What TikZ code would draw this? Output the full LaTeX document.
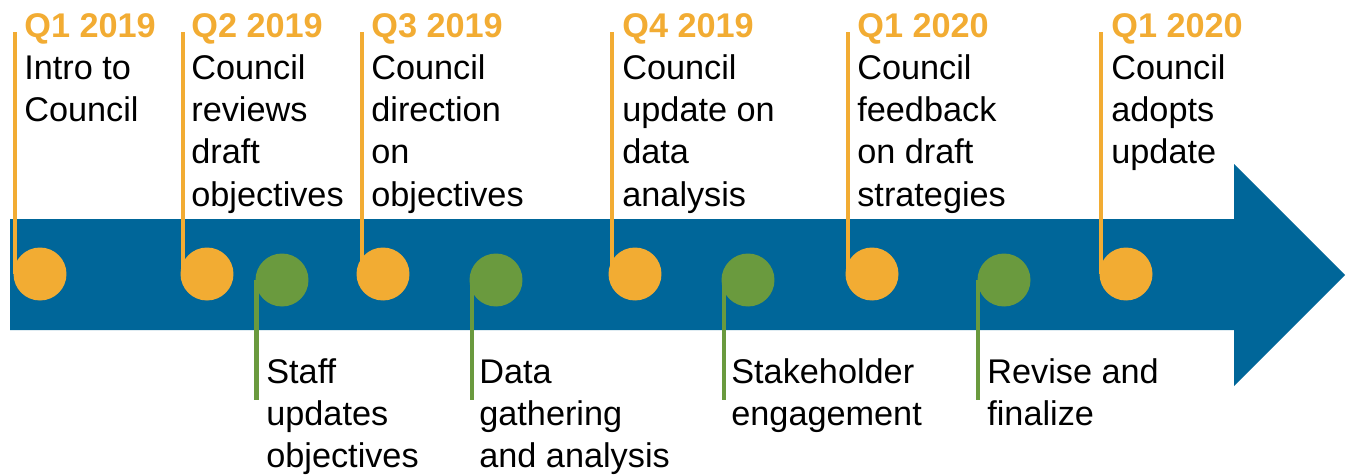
\documentclass[tikz,border=0pt]{standalone}
\usepackage{fontspec}
\setmainfont{Liberation Sans}
\usepackage{xcolor}
\usepackage{tikz}

\definecolor{tlblue}{HTML}{006699}
\definecolor{msorange}{HTML}{F2AC33}
\definecolor{msgreen}{HTML}{6A9A3E}
\newcommand{\qtr}[1]{\textcolor{msorange}{\textbf{#1}}}
\pgfdeclarelayer{arrowlayer}
\pgfdeclarelayer{stemlayer}
\pgfsetlayers{arrowlayer,stemlayer,main}

\begin{document}
\begin{tikzpicture}[
    x=0.02cm, y=-0.02cm,
    council/.style={circle, fill=msorange, minimum size=1.06cm, inner sep=0pt},
    staff/.style={circle, fill=msgreen, minimum size=1.06cm, inner sep=0pt},
    ostem/.style={draw=msorange, line width=2.3pt},
    gstem/.style={draw=msgreen, line width=2.3pt},
    mstext/.style={anchor=north west, inner sep=0pt, align=left, font=\fontsize{19.5pt}{24pt}\selectfont}
]
    \useasboundingbox (0,0) rectangle (1347,474);

    % Timeline arrow
    \begin{pgfonlayer}{arrowlayer}
    \fill[tlblue] (10,219) -- (1234,219) -- (1234,164) -- (1345,275)
        -- (1234,386) -- (1234,330) -- (10,330) -- cycle;
    \end{pgfonlayer}

    % Stem ends
    \coordinate (s1) at (15,32);
    \coordinate (s2) at (183,32);
    \coordinate (s3) at (362,32);
    \coordinate (s4) at (612,32);
    \coordinate (s5) at (848,32);
    \coordinate (s6) at (1101,32);
    \coordinate (b1) at (256.5,400);
    \coordinate (b2) at (472,400);
    \coordinate (b3) at (724,400);
    \coordinate (b4) at (978,400);

    % Council milestones
    \node[council] (m1) at (40,274) {};
    \node[council] (m2) at (207,274) {};
    \node[council] (m3) at (383,274) {};
    \node[council] (m4) at (635,274) {};
    \node[council] (m5) at (872,274) {};
    \node[council] (m6) at (1126,274) {};

    % Staff work
    \node[staff] (w1) at (282,280) {};
    \node[staff] (w2) at (496,280) {};
    \node[staff] (w3) at (748,280) {};
    \node[staff] (w4) at (1004,280) {};

    % Stems, behind the circles
    \begin{pgfonlayer}{stemlayer}
    \draw[ostem] (s1) -- (m1 -| s1);
    \draw[ostem] (s2) -- (m2 -| s2);
    \draw[ostem] (s3) -- (m3 -| s3);
    \draw[ostem] (s4) -- (m4 -| s4);
    \draw[ostem] (s5) -- (m5 -| s5);
    \draw[ostem] (s6) -- (m6 -| s6);
    \draw[gstem] (w1 -| b1) -- (b1);
    \draw[gstem] (w2 -| b2) -- (b2);
    \draw[gstem] (w3 -| b3) -- (b3);
    \draw[gstem] (w4 -| b4) -- (b4);
    \end{pgfonlayer}

    % Council texts
    \node[mstext] (c1) at (24,7.5) {\strut\qtr{Q1 2019}\\Intro to\\Council};
    \node[mstext] (c2) at (191,7.5) {\strut\qtr{Q2 2019}\\Council\\reviews\\draft\\objectives};
    \node[mstext] (c3) at (371,7.5) {\strut\qtr{Q3 2019}\\Council\\direction\\on\\objectives};
    \node[mstext] (c4) at (622,7.5) {\strut\qtr{Q4 2019}\\Council\\update on\\data\\analysis};
    \node[mstext] (c5) at (857,7.5) {\strut\qtr{Q1 2020}\\Council\\feedback\\on draft\\strategies};
    \node[mstext] (c6) at (1111,7.5) {\strut\qtr{Q1 2020}\\Council\\adopts\\update};

    % Staff texts
    \node[mstext] (t1) at (266,353.5) {\strut Staff\\updates\\objectives};
    \node[mstext] (t2) at (479,353.5) {\strut Data\\gathering\\and analysis};
    \node[mstext] (t3) at (731,353.5) {\strut Stakeholder\\engagement};
    \node[mstext] (t4) at (987,353.5) {\strut Revise and\\finalize};
\end{tikzpicture}
\end{document}
